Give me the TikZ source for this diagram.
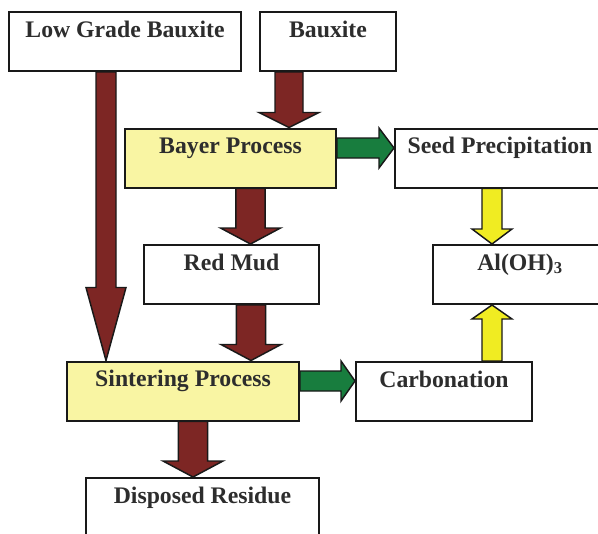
\documentclass[tikz,border=0pt]{standalone}
\usepackage{fontspec}
\setmainfont{Liberation Serif}
\usetikzlibrary{calc,backgrounds}

\definecolor{boxyellow}{RGB}{249,245,163}
\definecolor{mudred}{RGB}{125,38,36}
\definecolor{flowgreen}{RGB}{24,125,62}
\definecolor{aryellow}{RGB}{240,236,34}
\definecolor{txtgray}{RGB}{45,45,45}

\tikzset{every picture/.style={line width=0.75pt},
	procbox/.style={draw=black!90, line width=1.5pt, fill=white, inner xsep=0pt, inner ysep=0pt,
		text height=18.75pt, text depth=25.5pt, text=txtgray,
		font=\fontsize{17.8}{20}\selectfont\bfseries},
	hotbox/.style={procbox, fill=boxyellow},
	fatline/.style={draw=black!90, line width=1.1pt, line join=miter},
}

% block arrow: colour, tail, tip, half shaft, half head, head length
\newcommand{\fatarrow}[6]{%
	\coordinate (fa-a) at #2;
	\coordinate (fa-b) at #3;
	\coordinate (fa-h) at ($(fa-b)!#6!(fa-a)$);
	\draw[fatline, fill=#1] ($(fa-a)!#4!90:(fa-b)$) -- ($(fa-h)!#4!90:(fa-b)$) -- ($(fa-h)!#5!90:(fa-b)$)
		-- (fa-b) -- ($(fa-h)!#5!-90:(fa-b)$) -- ($(fa-h)!#4!-90:(fa-b)$) -- ($(fa-a)!#4!-90:(fa-b)$) -- cycle ;
}

\begin{document}
\begin{tikzpicture}[x=0.75pt,y=0.75pt,yscale=-1,xscale=1]
	\useasboundingbox (0,0) rectangle (598,533);
	\clip (0,0) rectangle (598,533);
	
	%Boxes
	\node [procbox, minimum width=174pt] (lg) at (125,41.5) {Low Grade Bauxite};
	\node [procbox, minimum width=102pt] (baux) at (328,41.5) {Bauxite};
	\node [hotbox, minimum width=158.25pt] (bayer) at (230.5,158) {Bayer Process};
	\node [procbox, minimum width=157.5pt] (seed) at (500,158) {Seed Precipitation};
	\node [procbox, minimum width=131.25pt] (redmud) at (231.5,274.5) {Red Mud};
	\node [procbox, minimum width=130.5pt] (aloh) at (520,274.5) {Al(OH)\textsubscript{3}};
	\node [hotbox, minimum width=174pt] (sint) at (183,391) {Sintering Process};
	\node [procbox, minimum width=132pt] (carb) at (444,391.5) {Carbonation};
	\node [procbox, minimum width=174.75pt] (disp) at (202.5,507.5) {Disposed Residue};
	
	%Arrows
	\begin{scope}[on background layer]
		\fatarrow{mudred}{(106,0 |- lg.south)}{(106,0 |- sint.north)}{7.5pt}{15pt}{54.75pt}
		\fatarrow{mudred}{(289,0 |- baux.south)}{(289,0 |- bayer.north)}{10.5pt}{22.5pt}{11.25pt}
		\fatarrow{mudred}{(250.5,0 |- bayer.south)}{(250.5,0 |- redmud.north)}{10.9pt}{22.5pt}{12pt}
		\fatarrow{mudred}{(251,0 |- redmud.south)}{(251,0 |- sint.north)}{10.9pt}{22.5pt}{12pt}
		\fatarrow{mudred}{(193,0 |- sint.south)}{(193,0 |- disp.north)}{10.9pt}{22.5pt}{12pt}
		\fatarrow{flowgreen}{(0,148 -| bayer.east)}{(0,148 -| seed.west)}{7.5pt}{15pt}{11.25pt}
		\fatarrow{flowgreen}{(0,381 -| sint.east)}{(0,381 -| carb.west)}{7.5pt}{15pt}{10.5pt}
		\fatarrow{aryellow}{(492,0 |- seed.south)}{(492,0 |- aloh.north)}{7.5pt}{15pt}{11.25pt}
		\fatarrow{aryellow}{(492,0 |- carb.north)}{(492,0 |- aloh.south)}{7.5pt}{15pt}{10.5pt}
	\end{scope}
	
\end{tikzpicture}
\end{document}
